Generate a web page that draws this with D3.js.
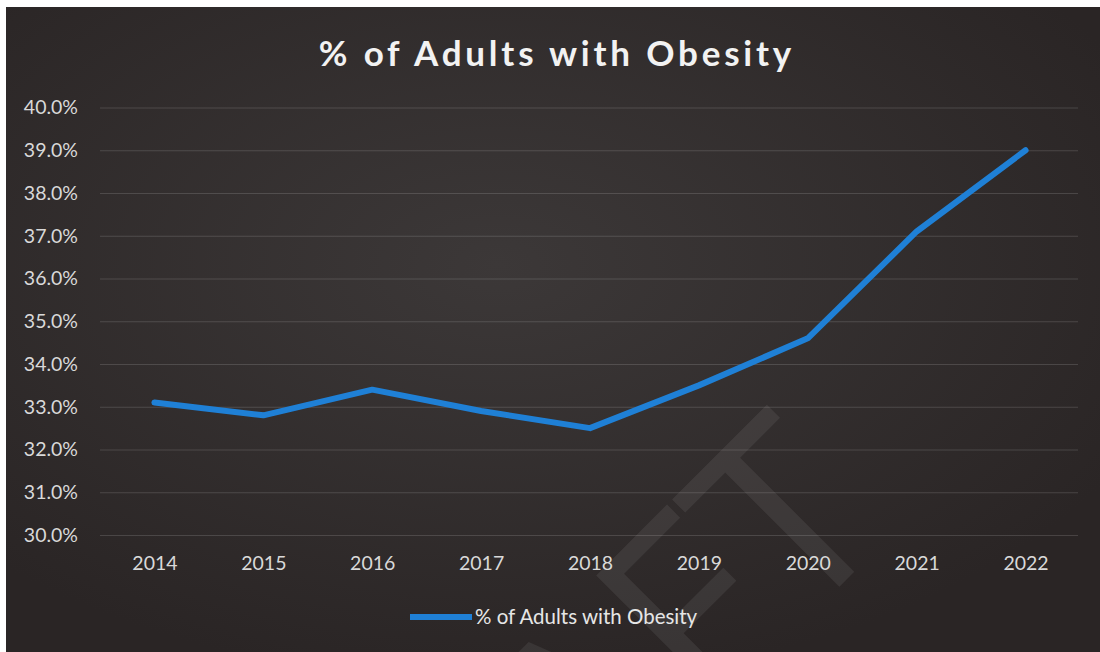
<!DOCTYPE html>
<html>
<head>
<meta charset="utf-8">
<script src="https://cdn.jsdelivr.net/npm/d3@7"></script>
<style>
  body { margin: 0; background: #fff; }
  svg { display: block; }
</style>
</head>
<body>
<div class="canvas"></div>
<script>
// chart data
const years = ["2014", "2015", "2016", "2017", "2018", "2019", "2020", "2021", "2022"]
const obesityPct = [33.1, 32.8, 33.4, 32.9, 32.5, 33.5, 34.6, 37.1, 39.0]
const yTicks = [30, 31, 32, 33, 34, 35, 36, 37, 38, 39, 40]
const seriesName = "% of Adults with Obesity"
const title = "% of Adults with Obesity"

/**
 * Dimensions
 */
const width = 1100
const height = 652
const margin = {top: 107.5, right: 20, bottom: 117, left: 100}

const svg = d3.select(".canvas")
    .append("svg")
    .attr("width", width)
    .attr("height", height)

// radial background like the dark chart style
const defs = svg.append("defs")
const grad = defs.append("radialGradient")
    .attr("id", "bg")
    .attr("cx", "45%").attr("cy", "40%").attr("r", "65%")
grad.append("stop").attr("offset", "0%").attr("stop-color", "#3c3838")
grad.append("stop").attr("offset", "100%").attr("stop-color", "#2a2525")

svg.append("rect")
    .attr("x", 6).attr("y", 7)
    .attr("width", width - 6).attr("height", height - 7)
    .attr("fill", "url(#bg)")

// faint watermark (cut by the bottom edge, as in the scan)
svg.append("text")
    .attr("transform", "translate(896,530) rotate(-45)")
    .attr("text-anchor", "end")
    .attr("font-family", "'Open Sans', sans-serif")
    .attr("font-size", 252)
    .attr("fill", "#ffffff")
    .attr("fill-opacity", 0.07)
    .text("DRAFT")

/**
 * Scales & axis
 */
const x = d3.scalePoint()
    .domain(years)
    .range([margin.left, width - margin.right])
    .padding(0.5)

const y = d3.scaleLinear()
    .domain([30, 40])
    .range([height - margin.bottom, margin.top])

// gridlines
const grid = svg.append("g")
    .attr("transform", `translate(${margin.left},0)`)
    .call(d3.axisLeft(y).tickValues(yTicks).tickSize(-(width - margin.left - margin.right - 2)).tickFormat(""))
grid.select(".domain").remove()
grid.selectAll("line")
    .attr("stroke", "#ffffff")
    .attr("stroke-opacity", 0.14)

const yAxisGroup = svg.append("g")
    .attr("transform", `translate(${margin.left - 19},0)`)
    .call(d3.axisLeft(y).tickValues(yTicks).tickSize(0).tickFormat(d => d.toFixed(1) + "%"))
yAxisGroup.select(".domain").remove()
yAxisGroup.selectAll("text")
    .attr("fill", "#d9d9d9")
    .attr("font-family", "Lato, sans-serif")
    .attr("font-size", 19.5)
    .attr("dx", 0)

const xAxisGroup = svg.append("g")
    .attr("transform", `translate(0,${height - margin.bottom + 18})`)
    .call(d3.axisBottom(x).tickSize(0))
xAxisGroup.select(".domain").remove()
xAxisGroup.selectAll("text")
    .attr("fill", "#d9d9d9")
    .attr("font-family", "Lato, sans-serif")
    .attr("font-size", 19.5)

/**
 * Line
 */
const line = d3.line()
    .x((d, i) => x(years[i]))
    .y(d => y(d))

svg.append("path")
    .datum(obesityPct)
    .attr("fill", "none")
    .attr("stroke", "#1f80d6")
    .attr("stroke-width", 6)
    .attr("stroke-linejoin", "round")
    .attr("stroke-linecap", "round")
    .attr("d", line)

// title
svg.append("text")
    .attr("x", 557)
    .attr("y", 66)
    .attr("text-anchor", "middle")
    .attr("fill", "#f2f2f2")
    .attr("font-family", "Lato, sans-serif")
    .attr("font-weight", "bold")
    .attr("font-size", 35)
    .attr("letter-spacing", 3.8)
    .text(title)

/**
 * Legend
 */
const legend = svg.append("g")
    .attr("transform", "translate(410,617)")
legend.append("line")
    .attr("x1", 0).attr("x2", 62)
    .attr("stroke", "#1f80d6")
    .attr("stroke-width", 6)
legend.append("text")
    .attr("x", 65)
    .attr("y", 7)
    .attr("fill", "#e6e6e6")
    .attr("font-family", "Lato, sans-serif")
    .attr("font-size", 20.5)
    .text(seriesName)
</script>
</body>
</html>
